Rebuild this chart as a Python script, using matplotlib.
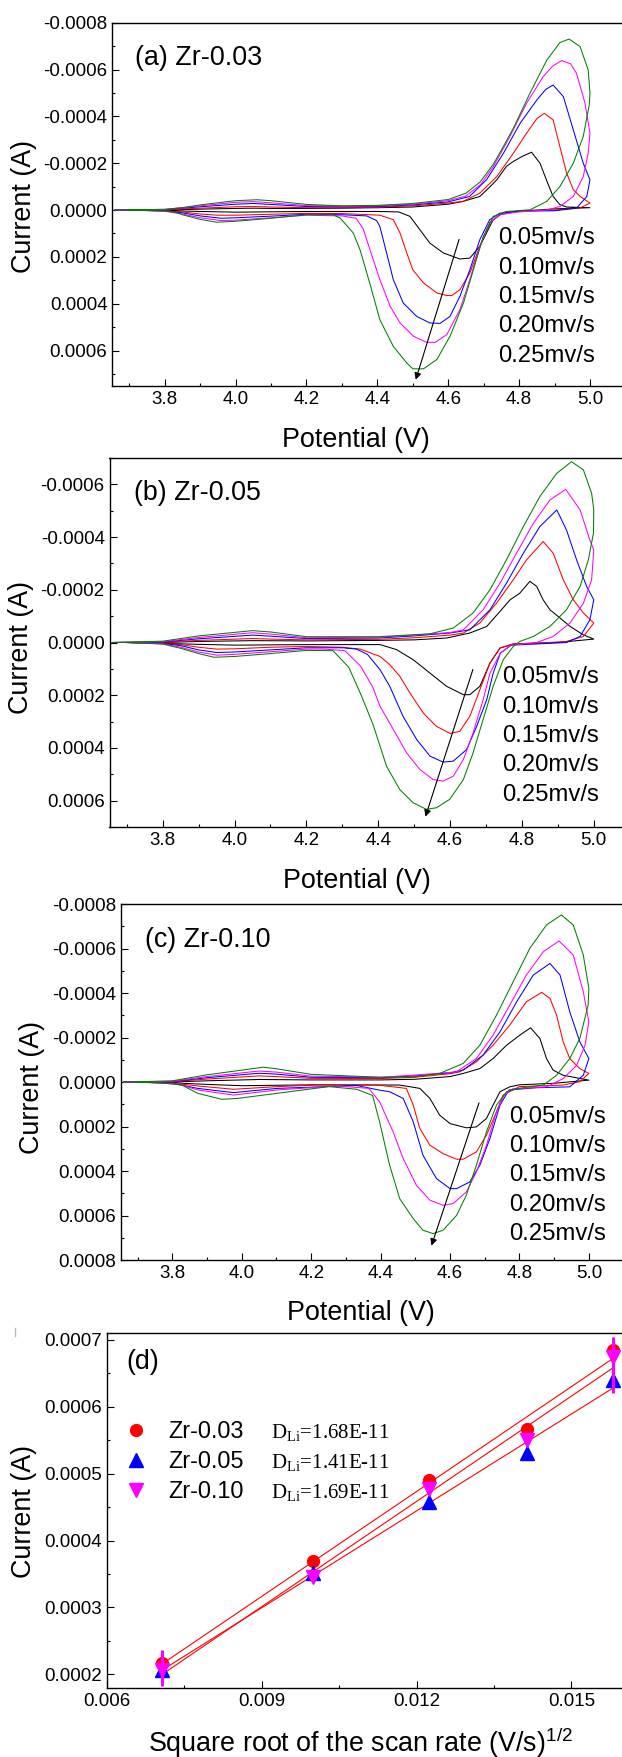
import numpy as np
import matplotlib
matplotlib.use('Agg')
from matplotlib import pyplot as plt
from matplotlib.ticker import MultipleLocator, FormatStrFormatter
from matplotlib.lines import Line2D

plt.rcParams['font.family'] = ['Liberation Sans', 'DejaVu Sans']
plt.rcParams['mathtext.fontset'] = 'custom'
plt.rcParams['mathtext.rm'] = 'Liberation Serif'
plt.rcParams['mathtext.sf'] = 'Liberation Sans'

W, H = 622, 1757

rate_labels = ['0.05mv/s', '0.10mv/s', '0.15mv/s', '0.20mv/s', '0.25mv/s']
rate_colors = ['black', 'red', 'blue', 'magenta', '#008000']

# CV loops: (potential V, current in 1e-4 A), anodic sweep 3.66 -> 5.0 then back
a_005 = [(3.66, 0), (3.8, 0), (3.9, -0.04), (4.0, -0.07), (4.05, -0.08), (4.1, -0.07), (4.2, -0.07),
         (4.3, -0.08), (4.4, -0.1), (4.5, -0.13), (4.6, -0.25), (4.642, -0.37), (4.689, -0.58),
         (4.715, -0.95), (4.737, -1.29), (4.764, -1.86), (4.783, -2.07), (4.81, -2.3), (4.835, -2.47),
         (4.859, -2.0), (4.877, -1.29), (4.896, -0.58), (4.915, -0.23), (4.934, -0.13), (5.0, -0.1),
         (4.9, -0.05), (4.793, 0.06), (4.756, 0.1), (4.727, 0.41), (4.708, 0.98), (4.689, 1.55),
         (4.661, 2.05), (4.633, 2.09), (4.586, 1.83), (4.548, 1.41), (4.52, 0.84), (4.492, 0.27),
         (4.46, 0.08), (4.4, 0.06), (4.2, 0.06), (4.0, 0.09), (3.9, 0.06), (3.8, 0.02), (3.7, 0)]
a_010 = [(3.66, 0), (3.8, -0.01), (3.9, -0.08), (4.0, -0.14), (4.05, -0.15), (4.1, -0.13), (4.2, -0.1),
         (4.3, -0.1), (4.4, -0.12), (4.5, -0.18), (4.6, -0.3), (4.642, -0.37), (4.689, -0.72),
         (4.737, -1.43), (4.784, -2.43), (4.821, -3.28), (4.85, -3.9), (4.871, -4.13), (4.896, -3.85),
         (4.915, -2.71), (4.934, -1.58), (4.953, -0.87), (4.972, -0.58), (5.0, -0.3),
         (4.972, -0.09), (4.9, 0.0), (4.8, 0.02), (4.746, 0.2), (4.717, 0.55), (4.689, 1.55),
         (4.661, 2.69), (4.633, 3.4), (4.61, 3.65), (4.596, 3.65), (4.568, 3.54), (4.53, 3.11), (4.5, 2.55),
         (4.483, 1.83), (4.464, 0.98), (4.445, 0.41), (4.407, 0.22), (4.3, 0.15), (4.2, 0.14), (4.1, 0.18),
         (4.0, 0.22), (3.95, 0.22), (3.9, 0.17), (3.85, 0.08), (3.8, 0.03), (3.7, 0)]
a_015 = [(3.66, 0), (3.8, -0.02), (3.9, -0.14), (4.0, -0.25), (4.05, -0.28), (4.1, -0.24), (4.2, -0.15),
         (4.3, -0.14), (4.4, -0.15), (4.5, -0.22), (4.6, -0.35), (4.66, -0.58), (4.708, -1.29),
         (4.756, -2.43), (4.803, -3.71), (4.85, -4.7), (4.875, -5.15), (4.896, -5.34), (4.925, -4.84),
         (4.953, -3.42), (4.981, -2.0), (5.0, -1.29),
         (4.991, -0.58), (4.962, -0.08), (4.9, 0.03), (4.8, 0.05), (4.746, 0.13), (4.717, 0.41),
         (4.689, 1.27), (4.661, 2.55), (4.633, 3.68), (4.605, 4.54), (4.577, 4.84), (4.548, 4.82),
         (4.511, 4.54), (4.473, 3.97), (4.445, 2.97), (4.426, 1.83), (4.407, 0.7), (4.398, 0.45),
         (4.37, 0.25), (4.3, 0.2), (4.2, 0.18), (4.1, 0.26), (4.0, 0.33), (3.96, 0.35), (3.9, 0.25),
         (3.85, 0.12), (3.8, 0.04), (3.7, 0)]
a_020 = [(3.66, 0), (3.8, -0.03), (3.9, -0.18), (4.0, -0.33), (4.05, -0.36), (4.1, -0.31), (4.2, -0.19),
         (4.3, -0.17), (4.4, -0.18), (4.5, -0.25), (4.6, -0.4), (4.65, -0.6), (4.692, -1.1), (4.727, -1.85),
         (4.774, -3.14), (4.821, -4.56), (4.868, -5.7), (4.895, -6.15), (4.92, -6.38), (4.945, -6.25),
         (4.962, -5.84), (4.986, -4.56), (5.0, -3.28),
         (4.995, -2.43), (4.981, -1.43), (4.953, -0.58), (4.915, -0.15), (4.878, 0.0), (4.8, 0.08),
         (4.745, 0.2), (4.717, 0.55), (4.689, 1.55), (4.661, 2.97), (4.633, 4.25), (4.596, 5.32),
         (4.563, 5.65), (4.539, 5.65), (4.502, 5.39), (4.464, 4.82), (4.436, 4.11), (4.407, 2.97),
         (4.379, 1.69), (4.36, 0.8), (4.34, 0.35), (4.3, 0.25), (4.2, 0.22), (4.1, 0.33), (4.0, 0.43),
         (3.96, 0.45), (3.9, 0.33), (3.85, 0.17), (3.8, 0.05), (3.7, 0)]
a_025 = [(3.66, 0), (3.8, -0.03), (3.85, -0.1), (3.9, -0.22), (4.0, -0.4), (4.06, -0.44), (4.1, -0.4),
         (4.2, -0.24), (4.3, -0.18), (4.4, -0.2), (4.5, -0.28), (4.6, -0.45), (4.65, -0.72), (4.69, -1.2),
         (4.727, -1.95), (4.755, -2.7), (4.784, -3.5), (4.831, -5.0), (4.878, -6.4), (4.915, -7.15),
         (4.941, -7.3), (4.972, -6.98), (4.995, -5.98), (5.0, -5.0),
         (4.998, -4.5), (4.981, -3.14), (4.953, -2.0), (4.915, -1.0), (4.878, -0.37), (4.831, -0.01),
         (4.765, 0.06), (4.727, 0.27), (4.699, 1.13), (4.671, 2.55), (4.643, 3.97), (4.605, 5.39),
         (4.568, 6.38), (4.53, 6.78), (4.5, 6.78), (4.483, 6.53), (4.445, 5.82), (4.407, 4.68),
         (4.38, 3.2), (4.351, 1.69), (4.332, 0.98), (4.295, 0.34), (4.275, 0.2), (4.2, 0.2), (4.1, 0.35),
         (4.0, 0.48), (3.947, 0.52), (3.9, 0.4), (3.85, 0.2), (3.83, 0.1), (3.8, 0.04), (3.7, 0)]

b_005 = [(3.66, 0), (3.8, 0), (3.9, -0.04), (4.05, -0.07), (4.2, -0.06), (4.4, -0.08), (4.5, -0.1),
         (4.59, -0.17), (4.655, -0.36), (4.702, -0.61), (4.739, -1.18), (4.767, -1.62), (4.794, -1.87),
         (4.822, -2.32), (4.841, -2.13), (4.859, -1.62), (4.878, -1.24), (4.906, -0.93), (4.934, -0.61),
         (4.971, -0.29), (5.0, -0.13),
         (4.9, 0.0), (4.8, 0.04), (4.776, 0.06), (4.739, 0.21), (4.711, 0.78), (4.683, 1.66),
         (4.655, 1.98), (4.637, 1.98), (4.59, 1.66), (4.544, 1.16), (4.497, 0.65), (4.451, 0.27),
         (4.405, 0.08), (4.2, 0.08), (4.0, 0.1), (3.9, 0.07), (3.8, 0.03), (3.7, 0)]
b_010 = [(3.66, 0), (3.8, -0.01), (3.9, -0.08), (4.05, -0.15), (4.1, -0.13), (4.2, -0.1), (4.4, -0.12),
         (4.5, -0.18), (4.6, -0.28), (4.637, -0.36), (4.683, -0.74), (4.729, -1.49), (4.776, -2.38),
         (4.813, -3.14), (4.859, -3.83), (4.887, -3.39), (4.915, -2.38), (4.943, -1.62), (4.971, -1.12),
         (5.0, -0.74),
         (4.971, -0.23), (4.924, -0.04), (4.85, 0.02), (4.776, 0.05), (4.739, 0.21), (4.711, 0.78),
         (4.683, 1.79), (4.655, 2.8), (4.627, 3.37), (4.6, 3.45), (4.562, 3.18), (4.525, 2.67),
         (4.488, 1.91), (4.46, 1.28), (4.432, 0.84), (4.405, 0.53), (4.35, 0.25), (4.3, 0.18), (4.2, 0.15),
         (4.1, 0.18), (4.0, 0.24), (3.95, 0.25), (3.9, 0.18), (3.85, 0.08), (3.8, 0.03), (3.7, 0)]
b_015 = [(3.66, 0), (3.8, -0.02), (3.9, -0.14), (4.05, -0.28), (4.1, -0.24), (4.2, -0.15), (4.4, -0.17),
         (4.5, -0.25), (4.6, -0.36), (4.655, -0.48), (4.711, -1.24), (4.757, -2.25), (4.804, -3.39),
         (4.85, -4.4), (4.897, -5.03), (4.924, -4.27), (4.952, -3.14), (4.98, -2.13), (5.0, -1.62),
         (4.989, -0.86), (4.962, -0.23), (4.924, 0.0), (4.85, 0.05), (4.77, 0.1), (4.74, 0.4),
         (4.72, 1.16), (4.702, 2.17), (4.674, 3.18), (4.646, 4.06), (4.609, 4.5), (4.581, 4.54),
         (4.544, 4.31), (4.507, 3.68), (4.469, 2.8), (4.432, 1.66), (4.405, 1.03), (4.37, 0.45),
         (4.34, 0.25), (4.3, 0.2), (4.2, 0.2), (4.1, 0.28), (4.0, 0.36), (3.95, 0.38), (3.9, 0.28),
         (3.85, 0.12), (3.8, 0.04), (3.7, 0)]
b_020 = [(3.66, 0), (3.8, -0.03), (3.9, -0.19), (4.05, -0.37), (4.1, -0.32), (4.2, -0.18), (4.4, -0.2),
         (4.5, -0.28), (4.6, -0.38), (4.637, -0.48), (4.692, -1.24), (4.739, -2.25), (4.785, -3.39),
         (4.832, -4.53), (4.878, -5.41), (4.922, -5.81), (4.962, -5.03), (4.989, -3.89), (5.0, -3.52),
         (4.994, -2.38), (4.971, -1.49), (4.934, -0.74), (4.887, -0.23), (4.841, 0.0), (4.77, 0.1),
         (4.74, 0.4), (4.711, 1.16), (4.692, 2.17), (4.664, 3.43), (4.637, 4.44), (4.609, 5.07),
         (4.581, 5.26), (4.553, 5.2), (4.516, 4.82), (4.479, 4.19), (4.442, 3.3), (4.405, 2.42),
         (4.385, 1.7), (4.351, 0.9), (4.307, 0.31), (4.25, 0.25), (4.2, 0.25), (4.1, 0.35), (4.0, 0.45),
         (3.95, 0.48), (3.9, 0.36), (3.85, 0.18), (3.8, 0.05), (3.7, 0)]
b_025 = [(3.66, 0), (3.8, -0.05), (3.9, -0.25), (4.05, -0.45), (4.1, -0.4), (4.2, -0.22), (4.4, -0.22),
         (4.544, -0.33), (4.609, -0.55), (4.664, -1.12), (4.711, -2.0), (4.757, -3.14), (4.804, -4.4),
         (4.85, -5.54), (4.897, -6.42), (4.938, -6.86), (4.971, -6.55), (4.994, -5.66), (5.0, -5.03),
         (4.999, -4.15), (4.985, -3.14), (4.962, -2.13), (4.924, -1.24), (4.878, -0.61), (4.832, -0.23),
         (4.794, -0.04), (4.776, 0.15), (4.748, 0.65), (4.72, 1.66), (4.692, 2.92), (4.664, 4.19),
         (4.637, 5.2), (4.599, 5.95), (4.562, 6.27), (4.534, 6.33), (4.497, 6.08), (4.46, 5.58),
         (4.423, 4.69), (4.405, 3.93), (4.385, 3.09), (4.351, 1.95), (4.318, 0.94), (4.274, 0.31),
         (4.2, 0.3), (4.1, 0.42), (4.0, 0.53), (3.943, 0.56), (3.9, 0.42), (3.85, 0.22), (3.8, 0.06),
         (3.7, 0)]

c_005 = [(3.66, 0), (3.8, -0.01), (3.9, -0.06), (4.05, -0.12), (4.2, -0.1), (4.4, -0.1), (4.5, -0.13),
         (4.6, -0.25), (4.638, -0.39), (4.686, -0.61), (4.724, -1.06), (4.763, -1.66), (4.801, -2.11),
         (4.832, -2.44), (4.859, -1.96), (4.878, -1.06), (4.897, -0.54), (4.926, -0.31), (5.0, -0.09),
         (4.9, 0.05), (4.8, 0.12), (4.772, 0.21), (4.744, 0.43), (4.724, 1.03), (4.705, 1.63),
         (4.676, 2.01), (4.647, 2.05), (4.6, 1.86), (4.57, 1.48), (4.542, 0.73), (4.513, 0.28),
         (4.455, 0.13), (4.2, 0.12), (4.0, 0.16), (3.9, 0.1), (3.8, 0.03), (3.7, 0)]
c_010 = [(3.66, 0), (3.8, -0.02), (3.9, -0.14), (4.05, -0.28), (4.1, -0.25), (4.2, -0.17), (4.4, -0.16),
         (4.5, -0.22), (4.6, -0.38), (4.628, -0.46), (4.676, -0.91), (4.724, -1.66), (4.772, -2.56),
         (4.82, -3.61), (4.864, -4.03), (4.888, -3.76), (4.907, -3.01), (4.926, -1.81), (4.945, -1.06),
         (4.974, -0.61), (5.0, -0.39),
         (4.974, -0.02), (4.926, 0.13), (4.8, 0.2), (4.753, 0.58), (4.734, 1.33), (4.705, 2.38),
         (4.676, 3.13), (4.638, 3.46), (4.619, 3.46), (4.58, 3.21), (4.542, 2.83), (4.513, 2.08),
         (4.494, 1.03), (4.474, 0.28), (4.436, 0.21), (4.389, 0.13), (4.217, 0.13), (4.102, 0.2),
         (3.976, 0.32), (3.873, 0.17), (3.8, 0.04), (3.7, 0)]
c_015 = [(3.66, 0), (3.8, -0.03), (3.9, -0.2), (4.05, -0.4), (4.1, -0.36), (4.2, -0.22), (4.4, -0.2),
         (4.5, -0.28), (4.6, -0.42), (4.638, -0.54), (4.695, -1.21), (4.744, -2.26), (4.792, -3.61),
         (4.84, -4.81), (4.888, -5.33), (4.917, -4.81), (4.945, -3.16), (4.974, -1.81), (5.0, -1.06),
         (4.984, -0.31), (4.945, 0.21), (4.85, 0.25), (4.77, 0.35), (4.744, 1.03), (4.715, 2.53),
         (4.686, 3.73), (4.657, 4.48), (4.619, 4.78), (4.6, 4.78), (4.561, 4.33), (4.522, 3.28),
         (4.494, 1.78), (4.465, 0.73), (4.426, 0.43), (4.397, 0.36), (4.331, 0.15), (4.102, 0.28),
         (3.976, 0.47), (3.873, 0.28), (3.8, 0.05), (3.7, 0)]
c_020 = [(3.66, 0), (3.8, -0.04), (3.9, -0.25), (4.05, -0.5), (4.1, -0.45), (4.2, -0.27), (4.4, -0.22),
         (4.5, -0.32), (4.618, -0.46), (4.676, -1.06), (4.724, -2.11), (4.772, -3.46), (4.82, -4.81),
         (4.869, -5.86), (4.914, -6.34), (4.955, -5.71), (4.984, -4.06), (5.0, -2.71),
         (4.989, -1.66), (4.965, -0.76), (4.926, -0.16), (4.878, 0.21), (4.78, 0.3), (4.755, 0.6),
         (4.734, 1.33), (4.705, 2.83), (4.676, 4.03), (4.647, 4.93), (4.609, 5.45), (4.58, 5.53),
         (4.542, 5.3), (4.503, 4.63), (4.465, 3.43), (4.436, 2.23), (4.397, 0.88), (4.366, 0.28),
         (4.274, 0.17), (4.102, 0.35), (3.976, 0.58), (3.873, 0.35), (3.816, 0.08), (3.7, 0)]
c_025 = [(3.66, 0), (3.8, -0.06), (3.9, -0.33), (4.062, -0.67), (4.1, -0.6), (4.2, -0.35), (4.4, -0.22),
         (4.494, -0.24), (4.57, -0.39), (4.638, -0.84), (4.686, -1.66), (4.734, -3.01), (4.782, -4.51),
         (4.83, -6.01), (4.878, -7.06), (4.921, -7.51), (4.955, -7.06), (4.984, -5.71), (5.0, -4.21),
         (4.998, -3.46), (4.974, -1.96), (4.945, -1.06), (4.907, -0.31), (4.869, 0.13), (4.83, 0.21),
         (4.79, 0.3), (4.763, 0.43), (4.734, 1.03), (4.705, 2.23), (4.676, 3.73), (4.647, 5.08),
         (4.619, 5.98), (4.58, 6.65), (4.551, 6.8), (4.522, 6.65), (4.494, 6.13), (4.455, 5.23),
         (4.426, 3.73), (4.397, 1.78), (4.377, 0.6), (4.331, 0.32), (4.251, 0.2), (4.102, 0.5),
         (3.988, 0.73), (3.942, 0.77), (3.873, 0.5), (3.827, 0.13), (3.759, 0.02), (3.7, 0)]

# panel (d): cathodic peak current vs square root of scan rate
scan_rates = [0.05, 0.10, 0.15, 0.20, 0.25]   # mV/s
ip_zr003 = [2.17, 3.70, 4.90, 5.67, 6.85]     # 1e-4 A
ip_zr005 = [2.07, 3.51, 4.58, 5.31, 6.40]
ip_zr010 = [2.07, 3.46, 4.77, 5.50, 6.75]
err_zr010_lo = [0.25, 0, 0, 0, 0.55]
err_zr010_hi = [0.30, 0, 0, 0, 0.30]
d_li = ['1.68E-11', '1.41E-11', '1.69E-11']
samples = ['Zr-0.03', 'Zr-0.05', 'Zr-0.10']


def fx(px):
    return px / W


def fy(py):
    return 1 - py / H


def make_axes(fig, left, top, bottom, right):
    ax = fig.add_axes([fx(left), fy(bottom), (right - left) / W, (bottom - top) / H])
    ax.spines['right'].set_visible(False)
    for s in ax.spines.values():
        s.set_linewidth(1.0)
    ax.tick_params(which='both', direction='in', top=False, right=False, labelsize=13.5, width=0.8)
    ax.tick_params(which='major', length=5)
    ax.tick_params(which='minor', length=2.5)
    return ax


fig = plt.figure(figsize=(W / 100, H / 100), dpi=100)

cv_panels = [
    dict(curves=[a_005, a_010, a_015, a_020, a_025], box=(112.3, 22.7, 385.7, 632.5),
         ylim=(7.5, -8), title='(a) Zr-0.03', title_xy=(135, 58), legend_x=498, legend_y=238.3,
         arrow=((4.633, 1.14), (4.506, 7.36)), ylab=(23.8, 206.7), xlab=(356, 440)),
    dict(curves=[b_005, b_010, b_015, b_020, b_025], box=(109.5, 458, 827, 636.9),
         ylim=(7, -7), title='(b) Zr-0.05', title_xy=(134, 493), legend_x=502, legend_y=677.3,
         arrow=((4.666, 0.92), (4.529, 6.71)), ylab=(20.6, 648), xlab=(357, 880.7)),
    dict(curves=[c_005, c_010, c_015, c_020, c_025], box=(121, 904, 1260.3, 630.5),
         ylim=(8, -8), title='(c) Zr-0.10', title_xy=(145, 940), legend_x=509, legend_y=1116.7,
         arrow=((4.686, 0.81), (4.544, 7.46)), ylab=(31.7, 1088), xlab=(361, 1312.7)),
]

for p in cv_panels:
    left, top, bottom, right = p['box']
    ax = make_axes(fig, left, top, bottom, right)
    for pts, col in zip(p['curves'], rate_colors):
        v = [q[0] for q in pts]
        i = [q[1] * 1e-4 for q in pts]
        ax.plot(v, i, color=col, lw=0.75, solid_joinstyle='round')
    ax.set_xlim(3.652, 5.12)
    ax.set_ylim(p['ylim'][0] * 1e-4, p['ylim'][1] * 1e-4)
    ax.xaxis.set_major_locator(MultipleLocator(0.2))
    ax.xaxis.set_minor_locator(MultipleLocator(0.1))
    ax.yaxis.set_major_locator(MultipleLocator(0.0002))
    ax.yaxis.set_minor_locator(MultipleLocator(0.0001))
    ax.xaxis.set_major_formatter(FormatStrFormatter('%.1f'))
    ax.yaxis.set_major_formatter(FormatStrFormatter('%.4f'))
    (x0, y0), (x1, y1) = p['arrow']
    ax.annotate('', xy=(x1, y1 * 1e-4), xytext=(x0, y0 * 1e-4),
                arrowprops=dict(arrowstyle='-|>', color='black', lw=0.8, mutation_scale=10))
    fig.text(fx(p['title_xy'][0]), fy(p['title_xy'][1]), p['title'], fontsize=19.4,
             ha='left', va='center')
    for k, lab in enumerate(rate_labels):
        fig.text(fx(p['legend_x']), fy(p['legend_y'] + k * 29.3), lab, fontsize=17.2,
                 ha='left', va='center')
    fig.text(fx(p['ylab'][0]), fy(p['ylab'][1]), 'Current (A)', fontsize=19.4,
             rotation=90, ha='center', va='center')
    fig.text(fx(p['xlab'][0]), fy(p['xlab'][1]), 'Potential (V)', fontsize=19.4,
             ha='center', va='center')

# panel (d)
ax = make_axes(fig, 107, 1333.3, 1687.7, 633.3)
xr = np.sqrt(np.array(scan_rates) * 1e-3)
series = [(ip_zr003, 'red', 'o', 8.5), (ip_zr005, 'blue', '^', 9.5), (ip_zr010, 'magenta', 'v', 9.5)]
for ys, col, mk, ms in series:
    y = np.array(ys) * 1e-4
    k, b = np.polyfit(xr, y, 1)
    ax.plot([xr[0], xr[-1]], [k * xr[0] + b, k * xr[-1] + b], color='red', lw=0.8, zorder=2)
for ys, col, mk, ms in series:
    y = np.array(ys) * 1e-4
    ax.plot(xr, y, linestyle='none', marker=mk, color=col, ms=ms, zorder=3)
ax.errorbar(xr, np.array(ip_zr010) * 1e-4,
            yerr=[np.array(err_zr010_lo) * 1e-4, np.array(err_zr010_hi) * 1e-4],
            fmt='none', ecolor='magenta', elinewidth=2.2, capsize=0, zorder=4)
ax.set_xlim(0.006, 0.0162)
ax.set_ylim(0.00018, 0.00071)
ax.xaxis.set_major_locator(MultipleLocator(0.003))
ax.xaxis.set_minor_locator(MultipleLocator(0.0015))
ax.yaxis.set_major_locator(MultipleLocator(0.0001))
ax.yaxis.set_minor_locator(MultipleLocator(0.00005))
ax.xaxis.set_major_formatter(FormatStrFormatter('%.3f'))
ax.yaxis.set_major_formatter(FormatStrFormatter('%.4f'))

fig.text(fx(126), fy(1361.7), '(d)', fontsize=19.4, ha='left', va='center')
for k, ((ys, col, mk, ms), name, dval) in enumerate(zip(series, samples, d_li)):
    yb = 1438 + k * 30
    fig.add_artist(Line2D([fx(136)], [fy(yb - 8)], marker=mk, color=col, ms=ms, linestyle='none'))
    fig.text(fx(168.7), fy(yb), name, fontsize=16.8, ha='left', va='baseline')
    fig.text(fx(271), fy(yb), r'D$_{\mathrm{Li}}$=' + dval, fontsize=15,
             family='Liberation Serif', ha='left', va='baseline')
fig.text(fx(23.8), fy(1512), 'Current (A)', fontsize=19.4, rotation=90, ha='center', va='center')
fig.text(fx(360), fy(1743), r'Square root of the scan rate (V/s)$^{\mathsf{1/2}}$', fontsize=19.4,
         ha='center', va='center')
fig.add_artist(Line2D([fx(15), fx(15)], [fy(1328), fy(1336)], color='#bbbbbb', lw=1))

fig.savefig('out.png', dpi=100)
